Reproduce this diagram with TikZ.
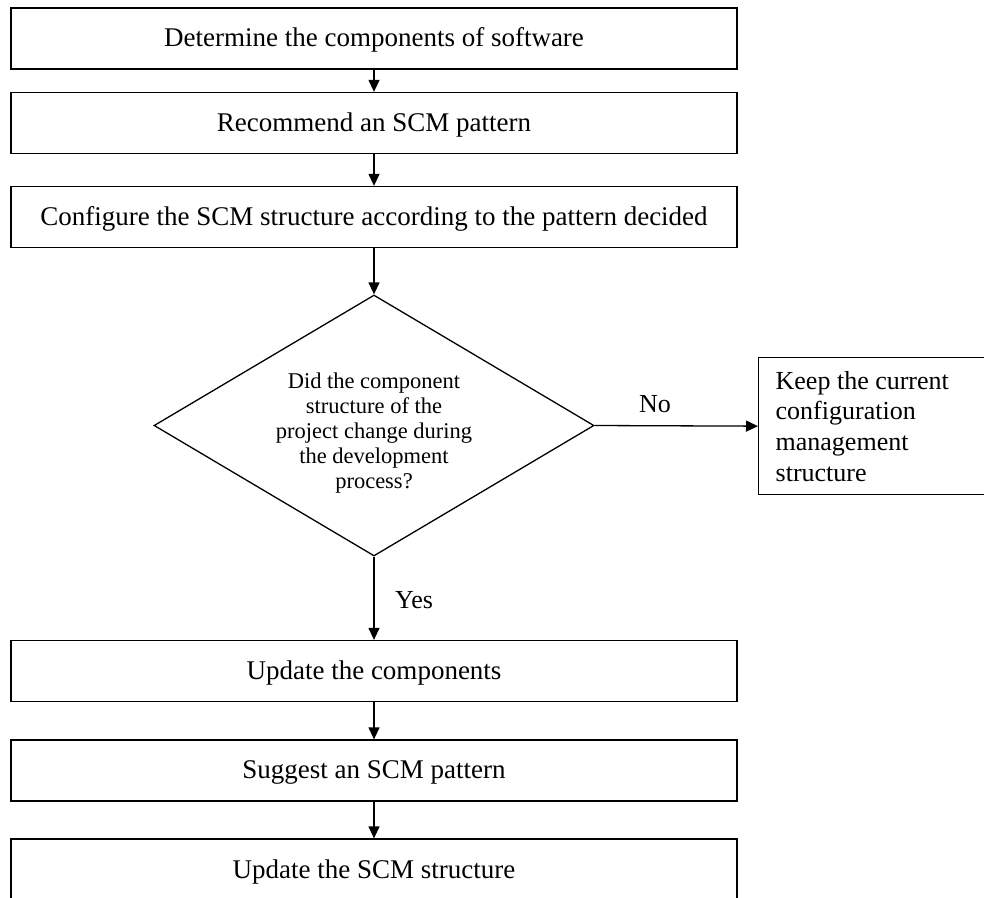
\documentclass[tikz,border=0pt]{standalone}
\usepackage{fontspec}
\setmainfont{Liberation Serif}
\usetikzlibrary{arrows.meta,shapes.geometric}
\begin{document}
\begin{tikzpicture}[x=1pt,y=-1pt,
  stepbox/.style={draw, line width=1.3pt, minimum width=726pt, minimum height=61pt,
    inner sep=0pt, font=\fontsize{27}{32}\selectfont, text height=21pt, text depth=5pt},
  decision/.style={diamond, draw, line width=1.3pt, minimum width=440pt,
    minimum height=261pt, inner sep=0pt, aspect=1.686},
  sidebox/.style={draw, line width=1.3pt, anchor=north west, minimum height=137pt,
    inner xsep=17pt, text width=230pt, align=flush left, font=\fontsize{26}{30.7}\selectfont},
  flowlabel/.style={anchor=base west, inner sep=0pt, font=\fontsize{26}{30}\selectfont},
  flow/.style={line width=1.3pt, -{Triangle[length=12pt,width=11pt]}}]
  \useasboundingbox (0,0) rectangle (984,897);
  \clip (0,0) rectangle (984,897);

  % main column of process steps
  \node[stepbox] (determine) at (374,38.5) {Determine the components of software};
  \node[stepbox] (recommend) at (374,123) {Recommend an SCM pattern};
  \node[stepbox] (configure) at (374,217) {Configure the SCM structure according to the pattern decided};

  % decision
  \node[decision] (changed) at (374,425.5) {};
  \node[align=center, inner sep=0pt, font=\fontsize{22.5}{25.2}\selectfont] (question) at (374,433)
    {Did the component\\structure of the\\project change during\\the development\\process?};

  % branch when nothing changed
  \node[sidebox] (keep) at (758,357)
    {Keep the current\\configuration\\management\\structure};

  % update steps
  \node[stepbox] (updatecomp) at (374,671) {Update the components};
  \node[stepbox] (suggest) at (374,770.5) {Suggest an SCM pattern};
  \node[stepbox, minimum height=62pt] (updatescm) at (374,870) {Update the SCM structure};

  % connectors
  \draw[flow] (determine) -- (recommend);
  \draw[flow] (recommend) -- (configure);
  \draw[flow] (configure) -- (changed.north);
  \draw[flow] (changed.east) -- (keep.west);
  \draw[flow] (changed.south) -- (updatecomp);
  \draw[flow] (updatecomp) -- (suggest);
  \draw[flow] (suggest) -- (updatescm);

  % branch labels
  \node[flowlabel] (nolabel) at (639,412) {No};
  \node[flowlabel] (yeslabel) at (395,608) {Yes};
\end{tikzpicture}
\end{document}
